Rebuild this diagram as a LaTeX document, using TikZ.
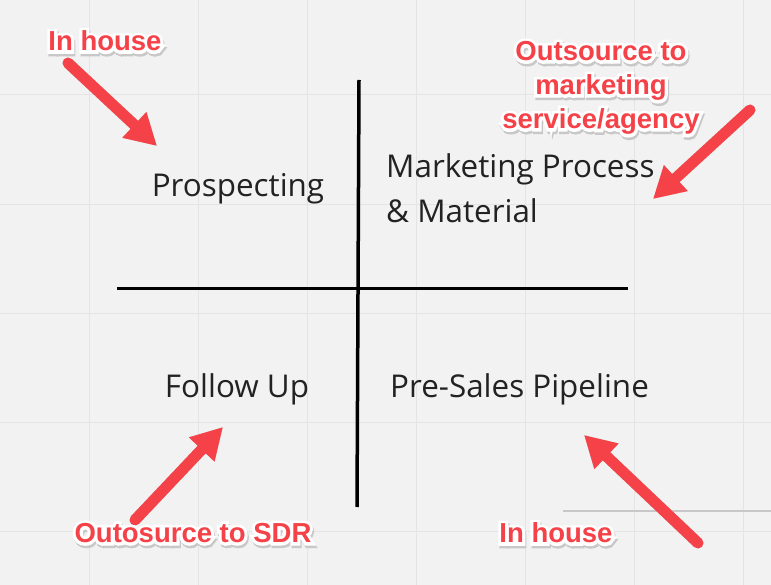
\documentclass[tikz,border=0pt]{standalone}
\usepackage{fontspec}
\setmainfont{Open Sans}
\newfontfamily\annotfont{Liberation Sans}
\newfontfamily\annotoutline[FakeBold=22]{Liberation Sans}
\usetikzlibrary{arrows.meta}
\definecolor{bg}{RGB}{242,242,242}
\definecolor{gridc}{RGB}{228,228,228}
\definecolor{annred}{RGB}{245,66,72}
\definecolor{shadowc}{RGB}{200,200,200}
\definecolor{txt}{RGB}{34,34,34}
\tikzset{
  quad/.style={font=\fontsize{31.4}{38}\selectfont, text=txt, inner sep=0pt},
  annot/.style={font=\annotfont\bfseries\fontsize{27.5}{34}\selectfont, align=center, inner sep=0pt},
  annotout/.style={font=\annotoutline\bfseries\fontsize{27.5}{34}\selectfont, align=center, inner sep=0pt},
  axis/.style={line width=3.5pt, draw=black},
  redarrow/.style={line width=11pt, draw=annred, line cap=round,
    -{Triangle[length=31pt,width=33pt]}},
  shadowarrow/.style={line width=11pt, draw=shadowc, line cap=round,
    -{Triangle[length=31pt,width=33pt]}},
}
\newcommand\annotlabel[3]{%
  \node[annotout,text=shadowc] at (#2) [xshift=1.2pt,yshift=-2.5pt] {#3};
  \node[annotout,text=white] at (#2) {#3};
  \node[annot,text=annred] (#1) at (#2) {#3};
}
\begin{document}
\begin{tikzpicture}[x=1pt,y=-1pt]
\fill[bg] (0,0) rectangle (771,585);
\useasboundingbox (0,0) rectangle (771,585);
% grid
\foreach \gx in {89,198.1,307.2,416.3,525.4,634.5,743.6} \draw[gridc, line width=1pt] (\gx,0) -- (\gx,585);
\foreach \gy in {95,204.1,313.2,422.3,531.4} \draw[gridc, line width=1pt] (0,\gy) -- (771,\gy);
\draw[draw={rgb,255:red,200;green,200;blue,200}, line width=1.2pt] (563,511) -- (771,511);
% axes
\coordinate (vtop) at (359,80);
\coordinate (vbot) at (357,507);
\coordinate (hl) at (117,288.5);
\coordinate (hr) at (628,288.5);
\draw[axis] (vtop) -- (vbot);
\draw[axis] (hl) -- (hr);
% quadrant texts
\node[quad, anchor=base] (prosp) at (238,197) {Prospecting};
\node[quad, anchor=base west] (mkt1) at (386,178) {Marketing Process};
\node[quad, anchor=base west] (mkt2) at (386,223) {\& Material};
\node[quad, anchor=base] (follow) at (237,397) {Follow Up};
\node[quad, anchor=base west] (presales) at (390,397) {Pre-Sales Pipeline};
% arrows
\coordinate (t1) at (68,63);   \coordinate (h1) at (157,146);
\coordinate (t2) at (750,110); \coordinate (h2) at (653,199);
\coordinate (t3) at (135,520); \coordinate (h3) at (223,427);
\coordinate (t4) at (698,543); \coordinate (h4) at (584,435);
\foreach \i in {1,2,3,4} \draw[shadowarrow, shift={(1.5,3)}] (t\i) -- (h\i);
\foreach \i in {1,2,3,4} \draw[redarrow] (t\i) -- (h\i);
% annotations
\annotlabel{inhouse1}{105,41}{In house}
\annotlabel{outsrc}{601,88}{Outsource to\\marketing\\service/agency}
\annotlabel{sdr}{193,533}{Outosurce to SDR}
\annotlabel{inhouse2}{556,533}{In house}
\end{tikzpicture}
\end{document}
